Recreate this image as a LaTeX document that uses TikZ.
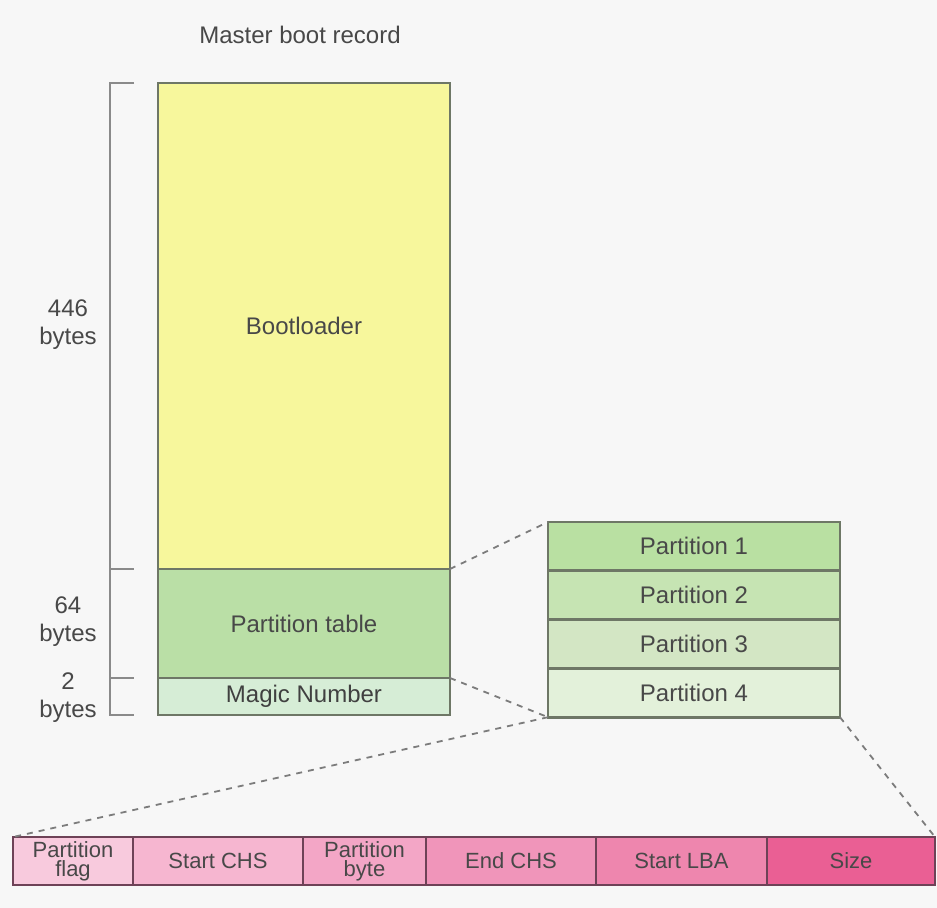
\documentclass[tikz,border=0pt]{standalone}
\usepackage{fontspec}
\setmainfont{Liberation Sans}
\usetikzlibrary{positioning}

\definecolor{bgcol}{HTML}{F7F7F7}
\definecolor{bootcol}{HTML}{F7F79C}
\definecolor{tablecol}{HTML}{BADFA6}
\definecolor{magiccol}{HTML}{D6EDD6}
\definecolor{partAcol}{HTML}{B9E0A2}
\definecolor{partBcol}{HTML}{C6E4B3}
\definecolor{partCcol}{HTML}{D3E6C4}
\definecolor{partDcol}{HTML}{E3F1DA}
\definecolor{greenedge}{HTML}{6E7766}
\definecolor{pinkedge}{HTML}{6E4257}
\definecolor{flagcol}{HTML}{F8CADD}
\definecolor{chsAcol}{HTML}{F6B6D0}
\definecolor{bytecol}{HTML}{F3A6C6}
\definecolor{chsBcol}{HTML}{F095BA}
\definecolor{lbacol}{HTML}{EE86AE}
\definecolor{sizecol}{HTML}{EA5F94}
\definecolor{labelcol}{HTML}{484848}
\definecolor{bracketcol}{HTML}{8A8A8A}

\tikzset{
  block/.style={draw=greenedge, line width=1.4pt, inner sep=0pt, outer sep=0pt,
    minimum width=146pt, text=labelcol, font=\fontsize{12}{13}\selectfont},
  entry/.style={draw=pinkedge, line width=1.4pt, inner sep=0pt, outer sep=0pt,
    minimum height=24pt, text=labelcol, align=center,
    font=\fontsize{11}{9.5}\selectfont},
  sizelabel/.style={text=labelcol, align=center, font=\fontsize{12}{14}\selectfont},
  zoomline/.style={draw=bracketcol!90!black, line width=0.9pt, dash pattern=on 3pt off 3pt}
}

\begin{document}
\begin{tikzpicture}[x=0.5pt, y=-0.5pt]
    % Hintergrund
    \fill[bgcol] (0,0) rectangle (937,908);
    \useasboundingbox (0,0) rectangle (937,908);

    \node[sizelabel] (title) at (300,35) {Master boot record};

    % Master boot record
    \node[block, fill=bootcol, minimum height=243pt, anchor=north west] (boot) at (158,83) {Bootloader};
    \node[block, fill=tablecol, minimum height=54.5pt, below=0pt of boot] (table) {Partition table};
    \node[block, fill=magiccol, minimum height=18.5pt, below=0pt of table, text=black!75] (magic) {Magic Number};

    % Klammer mit Groessen
    \draw[bracketcol, line width=1pt] (134,83) -- (110,83) -- (110,715) -- (134,715);
    \draw[bracketcol, line width=1pt] (110,569) -- (134,569);
    \draw[bracketcol, line width=1pt] (110,678) -- (134,678);
    \node[sizelabel] (size446) at (68,325) {446\\bytes};
    \node[sizelabel] (size64) at (68,622) {64\\bytes};
    \node[sizelabel] (size2) at (68,698) {2\\bytes};

    % Partitionstabelle
    \node[block, fill=partAcol, minimum height=24.4pt, anchor=north west] (part1) at (548,522) {Partition 1};
    \node[block, fill=partBcol, minimum height=24.4pt, below=0pt of part1] (part2) {Partition 2};
    \node[block, fill=partCcol, minimum height=24.4pt, below=0pt of part2] (part3) {Partition 3};
    \node[block, fill=partDcol, minimum height=24.4pt, below=0pt of part3] (part4) {Partition 4};

    % Eintrag
    \node[entry, fill=flagcol, minimum width=60pt, anchor=north west] (flag) at (13,837) {Partition\\flag};
    \node[entry, fill=chsAcol, minimum width=85pt, right=0pt of flag] (startchs) {Start CHS};
    \node[entry, fill=bytecol, minimum width=61.5pt, right=0pt of startchs] (ptype) {Partition\\byte};
    \node[entry, fill=chsBcol, minimum width=85pt, right=0pt of ptype] (endchs) {End CHS};
    \node[entry, fill=lbacol, minimum width=85.5pt, right=0pt of endchs] (startlba) {Start LBA};
    \node[entry, fill=sizecol, minimum width=84pt, right=0pt of startlba] (size) {Size};

    % Zoom-Linien
    \draw[zoomline] (table.north east) -- (part1.north west);
    \draw[zoomline] (magic.north east) -- (part4.south west);
    \draw[zoomline] (part4.south west) -- (flag.north west);
    \draw[zoomline] (part4.south east) -- (size.north east);
\end{tikzpicture}
\end{document}
